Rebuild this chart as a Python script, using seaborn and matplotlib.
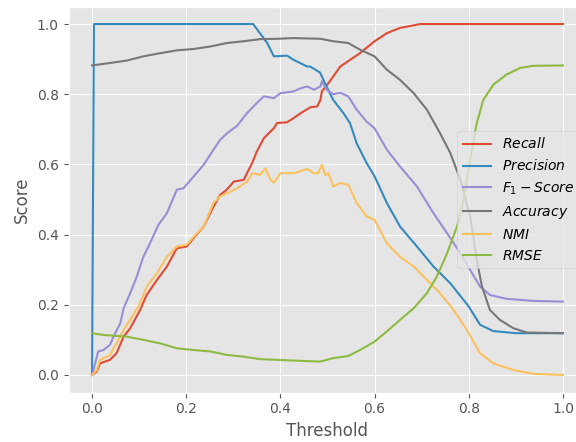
import matplotlib
matplotlib.use("Agg")
import matplotlib.pyplot as plt
import seaborn as sns
import pandas as pd

labels = ["$Recall$", "$Precision$", "$F_1-Score$", "$Accuracy$", "$NMI$", "$RMSE$"]
colors = ["#E24A33", "#348ABD", "#988ED5", "#777777", "#FBC15E", "#8EBA42"]

recall_x = [0.0, 0.010, 0.017, 0.038, 0.052, 0.067, 0.081, 0.102, 0.116, 0.138, 0.159, 0.180,
            0.201, 0.218, 0.237, 0.258, 0.272, 0.286, 0.301, 0.322, 0.340, 0.350, 0.365, 0.386,
            0.393, 0.414, 0.428, 0.443, 0.464, 0.478, 0.485, 0.488, 0.505, 0.527, 0.548, 0.569,
            0.600, 0.626, 0.654, 0.697, 1.0]
recall_y = [0.0, 0.010, 0.033, 0.043, 0.062, 0.109, 0.133, 0.185, 0.228, 0.271, 0.309, 0.361,
            0.366, 0.394, 0.423, 0.480, 0.513, 0.528, 0.551, 0.556, 0.604, 0.637, 0.675, 0.703,
            0.718, 0.720, 0.732, 0.746, 0.763, 0.765, 0.784, 0.808, 0.837, 0.879, 0.898, 0.917,
            0.951, 0.974, 0.989, 1.0, 1.0]

precision_x = [0.0, 0.004, 0.342, 0.372, 0.386, 0.414, 0.428, 0.457, 0.463, 0.484, 0.498, 0.512,
               0.534, 0.548, 0.562, 0.583, 0.600, 0.626, 0.654, 0.690, 0.725, 0.761, 0.800,
               0.824, 0.852, 0.901, 1.0]
precision_y = [0.0, 1.0, 1.0, 0.946, 0.908, 0.910, 0.898, 0.879, 0.879, 0.862, 0.822, 0.784,
               0.746, 0.717, 0.660, 0.604, 0.566, 0.490, 0.423, 0.366, 0.309, 0.261, 0.195,
               0.143, 0.125, 0.119, 0.119]

f1_x = [0.0, 0.003, 0.013, 0.024, 0.038, 0.049, 0.060, 0.067, 0.081, 0.095, 0.109, 0.123, 0.141,
        0.159, 0.180, 0.194, 0.216, 0.237, 0.258, 0.272, 0.287, 0.308, 0.329, 0.350, 0.365,
        0.386, 0.400, 0.428, 0.443, 0.457, 0.471, 0.485, 0.488, 0.498, 0.512, 0.527, 0.544,
        0.562, 0.583, 0.600, 0.626, 0.654, 0.690, 0.725, 0.754, 0.782, 0.803, 0.824, 0.845,
        0.880, 0.937, 1.0]
f1_y = [0.0, 0.014, 0.067, 0.071, 0.086, 0.119, 0.147, 0.190, 0.233, 0.280, 0.337, 0.375, 0.428,
        0.461, 0.528, 0.532, 0.566, 0.599, 0.642, 0.670, 0.689, 0.710, 0.746, 0.775, 0.794,
        0.789, 0.803, 0.808, 0.817, 0.822, 0.813, 0.822, 0.837, 0.813, 0.800, 0.804, 0.794,
        0.756, 0.722, 0.703, 0.642, 0.594, 0.537, 0.461, 0.404, 0.347, 0.299, 0.252, 0.228,
        0.217, 0.211, 0.209]

accuracy_x = [0.0, 0.038, 0.074, 0.109, 0.145, 0.180, 0.216, 0.251, 0.287, 0.322, 0.357, 0.393,
              0.428, 0.485, 0.512, 0.544, 0.569, 0.600, 0.626, 0.654, 0.683, 0.711, 0.739,
              0.761, 0.782, 0.803, 0.817, 0.828, 0.845, 0.866, 0.895, 0.923, 1.0]
accuracy_y = [0.882, 0.889, 0.896, 0.908, 0.917, 0.925, 0.929, 0.936, 0.946, 0.951, 0.957, 0.958,
              0.960, 0.958, 0.951, 0.946, 0.927, 0.908, 0.870, 0.841, 0.803, 0.756, 0.689,
              0.632, 0.556, 0.452, 0.328, 0.252, 0.185, 0.157, 0.133, 0.121, 0.119]

nmi_x = [0.0, 0.010, 0.017, 0.038, 0.052, 0.067, 0.081, 0.102, 0.116, 0.138, 0.159, 0.180, 0.201,
         0.216, 0.237, 0.258, 0.272, 0.287, 0.308, 0.329, 0.340, 0.357, 0.368, 0.379, 0.386,
         0.400, 0.428, 0.457, 0.471, 0.480, 0.488, 0.495, 0.502, 0.512, 0.527, 0.544, 0.562,
         0.583, 0.600, 0.626, 0.654, 0.683, 0.711, 0.739, 0.768, 0.796, 0.824, 0.852, 0.895,
         0.937, 1.0]
nmi_y = [0.0, 0.014, 0.043, 0.057, 0.090, 0.128, 0.157, 0.204, 0.252, 0.290, 0.337, 0.366, 0.371,
         0.394, 0.423, 0.490, 0.509, 0.518, 0.532, 0.551, 0.575, 0.570, 0.589, 0.556, 0.548,
         0.575, 0.575, 0.587, 0.575, 0.575, 0.599, 0.570, 0.575, 0.537, 0.547, 0.542, 0.490,
         0.452, 0.442, 0.375, 0.337, 0.309, 0.271, 0.233, 0.185, 0.128, 0.062, 0.033, 0.014,
         0.003, 0.0]

rmse_x = [0.0, 0.024, 0.074, 0.109, 0.145, 0.180, 0.216, 0.251, 0.287, 0.322, 0.357, 0.393,
          0.428, 0.484, 0.512, 0.544, 0.569, 0.600, 0.626, 0.654, 0.683, 0.711, 0.732, 0.754,
          0.775, 0.789, 0.803, 0.817, 0.831, 0.852, 0.880, 0.909, 0.937, 1.0]
rmse_y = [0.119, 0.114, 0.109, 0.100, 0.090, 0.076, 0.071, 0.067, 0.057, 0.052, 0.045, 0.043,
          0.041, 0.038, 0.048, 0.054, 0.071, 0.095, 0.124, 0.157, 0.190, 0.233, 0.280, 0.347,
          0.423, 0.499, 0.613, 0.718, 0.784, 0.827, 0.856, 0.875, 0.881, 0.882]

series = [(recall_x, recall_y), (precision_x, precision_y), (f1_x, f1_y),
          (accuracy_x, accuracy_y), (nmi_x, nmi_y), (rmse_x, rmse_y)]

frames = []
for lab, (xs, ys) in zip(labels, series):
    frames.append(pd.DataFrame({"Threshold": xs, "Score": ys, "Metric": lab}))
df = pd.concat(frames, ignore_index=True)

plt.style.use("ggplot")
fig = plt.figure(figsize=(5.76, 4.42), dpi=100)
ax = fig.add_axes([68.5 / 576, (442 - 392.5) / 442, 518 / 576, 386 / 442])

sns.lineplot(data=df, x="Threshold", y="Score", hue="Metric", hue_order=labels,
             palette=colors, linewidth=1.5, ax=ax, estimator=None, sort=False)

ax.set_xlim(-0.05, 1.05)
ax.set_ylim(-0.05, 1.05)
ax.set_xticks([0.0, 0.2, 0.4, 0.6, 0.8, 1.0])
ax.set_yticks([0.0, 0.2, 0.4, 0.6, 0.8, 1.0])
handles, labs = ax.get_legend_handles_labels()
ax.legend(handles, labs, loc="center right")

fig.savefig("out.png", dpi=100)
